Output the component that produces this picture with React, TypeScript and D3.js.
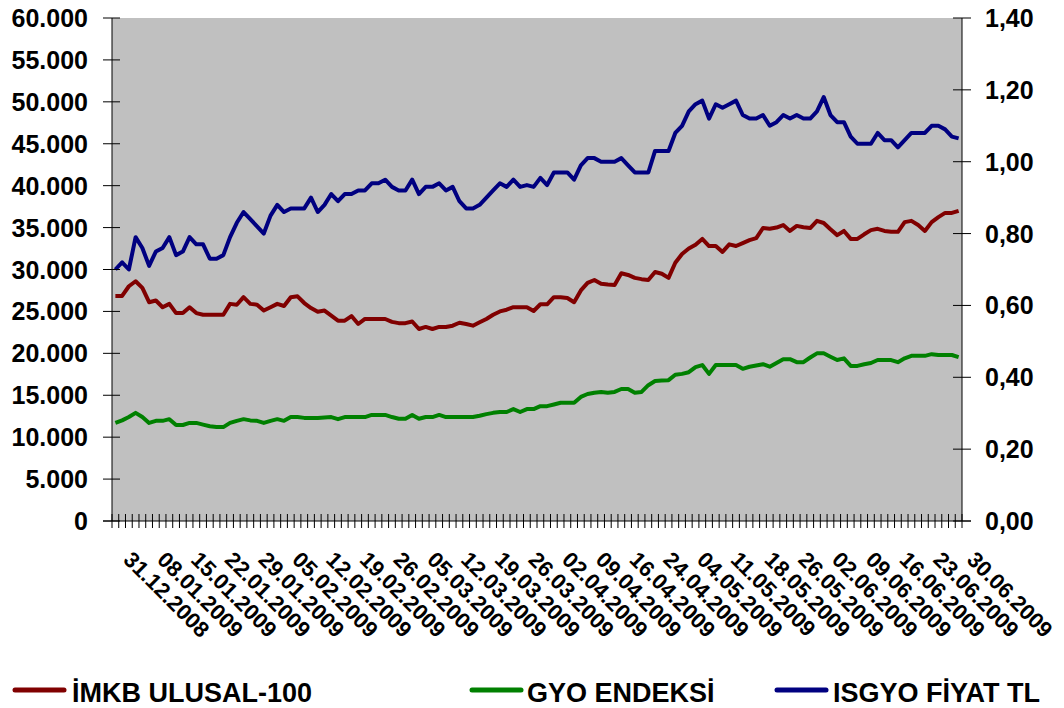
import React from "react";
import * as d3 from "d3";

// trading days 31.12.2008 - 30.06.2009, one label every 5 sessions
const tickLabels = [
  "31.12.2008", "08.01.2009", "15.01.2009", "22.01.2009", "29.01.2009",
  "05.02.2009", "12.02.2009", "19.02.2009", "26.02.2009", "05.03.2009",
  "12.03.2009", "19.03.2009", "26.03.2009", "02.04.2009", "09.04.2009",
  "16.04.2009", "24.04.2009", "04.05.2009", "11.05.2009", "18.05.2009",
  "26.05.2009", "02.06.2009", "09.06.2009", "16.06.2009", "23.06.2009",
  "30.06.2009",
];
const labelEvery = 5;

const ulusal100 = [
  26850, 26850, 28000, 28600, 27800, 26100, 26300, 25500, 25900, 24800,
  24800, 25500, 24800, 24600, 24600, 24600, 24600, 25900, 25800, 26700,
  25900, 25800, 25100, 25500, 25900, 25650, 26700, 26800, 26000, 25400,
  24950, 25100, 24500, 23900, 23900, 24450, 23500, 24100, 24100, 24100,
  24100, 23750, 23600, 23600, 23800, 22900, 23150, 22900, 23150, 23150,
  23300, 23650, 23500, 23300, 23700, 24100, 24600, 25000, 25200, 25500,
  25500, 25500, 25050, 25850, 25850, 26700, 26700, 26600, 26100, 27500,
  28400, 28750, 28300, 28200, 28150, 29550, 29350, 29000, 28850, 28750,
  29700, 29500, 29000, 30800, 31850, 32500, 32950, 33650, 32800, 32800,
  32100, 33000, 32800, 33150, 33500, 33750, 34950, 34850, 35000, 35300,
  34600, 35200, 35050, 34950, 35800, 35550, 34800, 34100, 34600, 33650,
  33650, 34200, 34700, 34850, 34600, 34500, 34500, 35650, 35800, 35300,
  34600, 35650, 36250, 36750, 36750, 37000,
];

const gyoEndeksi = [
  11700, 12000, 12400, 12900, 12400, 11700, 11950, 11950, 12150, 11450,
  11450, 11700, 11700, 11500, 11300, 11200, 11200, 11700, 11950, 12150,
  12000, 11950, 11700, 11950, 12150, 11950, 12400, 12400, 12300, 12300,
  12300, 12350, 12400, 12150, 12400, 12400, 12400, 12400, 12650, 12650,
  12650, 12400, 12200, 12200, 12650, 12200, 12400, 12400, 12650, 12400,
  12400, 12400, 12400, 12400, 12550, 12750, 12900, 13000, 13000, 13350,
  13000, 13350, 13350, 13700, 13700, 13900, 14100, 14100, 14100, 14800,
  15150, 15300, 15400, 15300, 15400, 15750, 15750, 15300, 15400, 16200,
  16700, 16750, 16800, 17450, 17550, 17750, 18350, 18600, 17550, 18600,
  18600, 18600, 18600, 18150, 18400, 18550, 18700, 18400, 18850, 19300,
  19300, 18950, 18950, 19500, 20000, 20000, 19600, 19200, 19400, 18500,
  18500, 18700, 18850, 19200, 19200, 19200, 18950, 19400, 19700, 19700,
  19700, 19900, 19800, 19800, 19800, 19550,
];

const isgyoFiyat = [
  0.70, 0.72, 0.70, 0.79, 0.76, 0.71, 0.75, 0.76, 0.79, 0.74,
  0.75, 0.79, 0.77, 0.77, 0.73, 0.73, 0.74, 0.79, 0.83, 0.86,
  0.84, 0.82, 0.80, 0.85, 0.88, 0.86, 0.87, 0.87, 0.87, 0.90,
  0.86, 0.88, 0.91, 0.89, 0.91, 0.91, 0.92, 0.92, 0.94, 0.94,
  0.95, 0.93, 0.92, 0.92, 0.95, 0.91, 0.93, 0.93, 0.94, 0.92,
  0.93, 0.89, 0.87, 0.87, 0.88, 0.90, 0.92, 0.94, 0.93, 0.95,
  0.93, 0.935, 0.93, 0.955, 0.935, 0.97, 0.97, 0.97, 0.95, 0.99,
  1.01, 1.01, 1.00, 1.00, 1.00, 1.01, 0.99, 0.97, 0.97, 0.97,
  1.03, 1.03, 1.03, 1.08, 1.10, 1.14, 1.16, 1.17, 1.12, 1.16,
  1.15, 1.16, 1.17, 1.13, 1.12, 1.12, 1.13, 1.10, 1.11, 1.13,
  1.12, 1.13, 1.12, 1.12, 1.14, 1.18, 1.13, 1.11, 1.11, 1.07,
  1.05, 1.05, 1.05, 1.08, 1.06, 1.06, 1.04, 1.06, 1.08, 1.08,
  1.08, 1.10, 1.10, 1.09, 1.07, 1.065,
];

const leftTicks = [0, 5000, 10000, 15000, 20000, 25000, 30000, 35000, 40000, 45000, 50000, 55000, 60000];
const rightTicks = [0, 0.2, 0.4, 0.6, 0.8, 1.0, 1.2, 1.4];

const series = [
  { name: "İMKB ULUSAL-100", color: "#800000", values: ulusal100, axis: "left" },
  { name: "GYO ENDEKSİ", color: "#008000", values: gyoEndeksi, axis: "left" },
  { name: "ISGYO FİYAT TL", color: "#000080", values: isgyoFiyat, axis: "right" },
];

const W = 1064;
const H = 708;
const plot = { left: 112, right: 962, top: 18, bottom: 521 };
const font = "'Liberation Sans', Arial, sans-serif";

const trLocale = d3.formatLocale({ decimal: ",", thousands: ".", grouping: [3], currency: ["", ""] });
const fmtLeft = trLocale.format(",");
const fmtRight = trLocale.format(".2f");

export default function App() {
  const n = ulusal100.length;
  const x = d3.scaleBand<number>().domain(d3.range(n)).range([plot.left, plot.right]);
  const cx = (i: number) => (x(i) as number) + x.bandwidth() / 2;
  const yL = d3.scaleLinear().domain([0, 60000]).range([plot.bottom, plot.top]);
  const yR = d3.scaleLinear().domain([0, 1.4]).range([plot.bottom, plot.top]);

  const boundaries = d3.range(n + 1).map((i) => plot.left + i * x.step());

  const legendPos = [
    { lx: 13, tx: 72 },
    { lx: 470, tx: 527 },
    { lx: 775, tx: 833 },
  ];

  return (
    <svg width={W} height={H} style={{ position: "absolute", left: 0, top: 0, background: "#fff" }}>
      <rect x={plot.left} y={plot.top} width={plot.right - plot.left} height={plot.bottom - plot.top} fill="#C0C0C0" />

      {series.map((s) => {
        const y = s.axis === "left" ? yL : yR;
        const line = d3.line<number>().x((_, i) => cx(i)).y((v) => y(v));
        return (
          <path key={s.name} d={line(s.values) || ""} fill="none" stroke={s.color} strokeWidth={4} strokeLinejoin="round" />
        );
      })}

      {/* axes */}
      <line x1={plot.left} x2={plot.left} y1={plot.top} y2={plot.bottom} stroke="#000" />
      <line x1={plot.right} x2={plot.right} y1={plot.top} y2={plot.bottom} stroke="#000" />
      <line x1={plot.left - 9} x2={plot.right + 9} y1={plot.bottom} y2={plot.bottom} stroke="#000" />

      {leftTicks.map((t) => (
        <g key={"l" + t}>
          <line x1={plot.left - 9} x2={plot.left + 8} y1={yL(t)} y2={yL(t)} stroke="#000" />
          <text x={88} y={yL(t)} dy="0.36em" textAnchor="end" fontFamily={font} fontWeight="bold" fontSize={25}>
            {fmtLeft(t)}
          </text>
        </g>
      ))}

      {rightTicks.map((t) => (
        <g key={"r" + t}>
          <line x1={plot.right - 9} x2={plot.right + 9} y1={yR(t)} y2={yR(t)} stroke="#000" />
          <text x={985} y={yR(t)} dy="0.36em" textAnchor="start" fontFamily={font} fontWeight="bold" fontSize={25}>
            {fmtRight(t)}
          </text>
        </g>
      ))}

      {boundaries.map((bx, i) => (
        <line key={"b" + i} x1={bx} x2={bx} y1={plot.bottom - 7} y2={plot.bottom + 7} stroke="#000" />
      ))}

      {tickLabels.map((lab, k) => {
        const px = cx(k * labelEvery) + 7;
        const py = 561;
        return (
          <text
            key={lab}
            x={px}
            y={py}
            transform={`rotate(45 ${px} ${py})`}
            fontFamily={font}
            fontWeight="bold"
            fontSize={22}
          >
            {lab}
          </text>
        );
      })}

      {/* legend */}
      {series.map((s, i) => (
        <g key={"lg" + s.name}>
          <line
            x1={legendPos[i].lx + 2}
            x2={legendPos[i].lx + 51}
            y1={690}
            y2={690}
            stroke={s.color}
            strokeWidth={5}
            strokeLinecap="round"
          />
          <text x={legendPos[i].tx} y={702} fontFamily={font} fontWeight="bold" fontSize={27}>
            {s.name}
          </text>
        </g>
      ))}
    </svg>
  );
}
